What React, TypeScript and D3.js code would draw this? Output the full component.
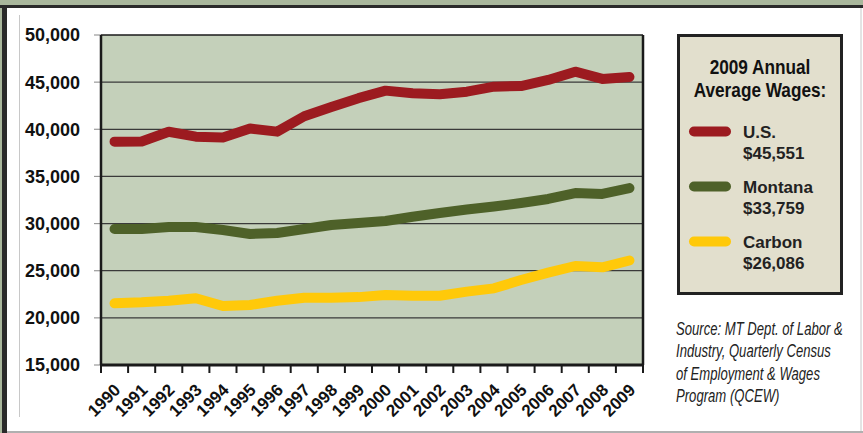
import React from "react";
import * as d3 from "d3";

const years = [1990,1991,1992,1993,1994,1995,1996,1997,1998,1999,2000,2001,2002,2003,2004,2005,2006,2007,2008,2009];
const usWages = [38690,38700,39740,39220,39130,40080,39750,41380,42370,43300,44100,43820,43710,43990,44520,44590,45230,46110,45340,45551];
const montanaWages = [29420,29430,29640,29640,29320,28900,29000,29420,29850,30060,30270,30730,31120,31490,31810,32180,32610,33240,33140,33759];
const carbonWages = [21545,21650,21820,22075,21260,21365,21820,22140,22140,22200,22425,22350,22350,22780,23130,24015,24790,25500,25360,26086];
const yTicks = [15000,20000,25000,30000,35000,40000,45000,50000];

const seriesNames = ["U.S.", "Montana", "Carbon"];
const seriesLabels = ["$45,551", "$33,759", "$26,086"];
const seriesColors = ["#9c1b20", "#4e6129", "#ffc90a"];
const legendTitle = ["2009 Annual", "Average Wages:"];
const sourceLines = ["Source: MT Dept. of Labor &", "Industry, Quarterly Census", "of Employment & Wages", "Program (QCEW)"];

const W = 863, H = 433;
const plot = { left: 101, right: 643, top: 35, bottom: 365 };
const boldFont = "'Liberation Sans', Arial, sans-serif";

export default function App() {
  const x = d3.scaleBand<number>().domain(years).range([plot.left, plot.right]);
  const y = d3.scaleLinear().domain([15000, 50000]).range([plot.bottom, plot.top]);
  const cx = (yr: number) => (x(yr) as number) + x.bandwidth() / 2;
  const line = d3.line<number>().x((_, i) => cx(years[i])).y((v) => y(v)).curve(d3.curveLinear);
  const series = [usWages, montanaWages, carbonWages];
  const fmt = d3.format(",");
  const boundaries = [...years.map((yr) => x(yr) as number), plot.right];

  return (
    <svg width={W} height={H} style={{ position: "absolute", left: 0, top: 0 }}>
      <rect x={0} y={0} width={W} height={H} fill="#ffffff" />
      <rect x={0} y={0} width={W} height={6} fill="#a9b79c" />
      <rect x={0} y={0} width={2} height={H} fill="#a9b79c" />
      <rect x={0} y={5} width={W} height={3} fill="#2a2a2a" />
      <rect x={2} y={5} width={5} height={H} fill="#2a2a2a" />
      <line x1={19.5} x2={19.5} y1={15} y2={417} stroke="#c8c8c8" strokeWidth={1} />
      <rect x={7} y={431} width={W - 7} height={2} fill="#b0b0b0" />
      <line x1={861} x2={861} y1={8} y2={431} stroke="#c8c8c8" strokeWidth={1} />

      {/* plot area */}
      <rect x={plot.left} y={plot.top} width={plot.right - plot.left} height={plot.bottom - plot.top} fill="#c4d0ba" />
      {yTicks.map((t) => (
        <g key={t}>
          {t !== 15000 && t !== 50000 && (
            <line x1={plot.left} x2={plot.right} y1={y(t)} y2={y(t)} stroke="#3a3a3a" strokeWidth={1.2} />
          )}
          <line x1={plot.left - 7} x2={plot.left} y1={y(t)} y2={y(t)} stroke="#999" strokeWidth={1.2} />
          <text x={80} y={y(t)} dy="0.36em" textAnchor="end" fontFamily={boldFont} fontWeight="bold" fontSize={18} fill="#111">
            {fmt(t)}
          </text>
        </g>
      ))}
      {series.map((s, i) => (
        <path key={i} d={line(s) || ""} fill="none" stroke={seriesColors[i]} strokeWidth={10} strokeLinecap="round" strokeLinejoin="round" />
      ))}
      <line x1={plot.left} x2={plot.right} y1={plot.top} y2={plot.top} stroke="#1a1a1a" strokeWidth={1.5} />
      <line x1={plot.left} x2={plot.left} y1={plot.top} y2={plot.bottom} stroke="#1a1a1a" strokeWidth={2.5} />
      <line x1={plot.right} x2={plot.right} y1={plot.top} y2={plot.bottom} stroke="#1a1a1a" strokeWidth={2.5} />
      <line x1={plot.left - 1} x2={plot.right + 1} y1={plot.bottom} y2={plot.bottom} stroke="#1a1a1a" strokeWidth={3} />
      {boundaries.map((b, i) => (
        <line key={i} x1={b} x2={b} y1={plot.bottom} y2={plot.bottom + 8} stroke="#1a1a1a" strokeWidth={2} />
      ))}
      {years.map((yr) => (
        <text key={yr} transform={`translate(${cx(yr) + 7},${plot.bottom + 26}) rotate(-45)`} textAnchor="end"
          fontFamily={boldFont} fontWeight="bold" fontSize={17} fill="#111">
          {yr}
        </text>
      ))}

      {/* legend */}
      <rect x={678.5} y={35.5} width={163} height={258} fill="#e2dfcd" stroke="#222" strokeWidth={3} />
      {legendTitle.map((t, i) => (
        <text key={t} transform={`translate(760,${74 + i * 22.5}) scale(0.82,1)`} textAnchor="middle"
          fontFamily={boldFont} fontWeight="bold" fontSize={21} fill="#111">
          {t}
        </text>
      ))}
      {seriesNames.map((n, i) => (
        <g key={n}>
          <line x1={694} x2={726} y1={131.5 + i * 55} y2={131.5 + i * 55} stroke={seriesColors[i]} strokeWidth={10} strokeLinecap="round" />
          <text x={743} y={137.5 + i * 55} fontFamily={boldFont} fontWeight="bold" fontSize={17} fill="#222">{n}</text>
          <text x={743} y={158.5 + i * 55} fontFamily={boldFont} fontWeight="bold" fontSize={17} fill="#222">{seriesLabels[i]}</text>
        </g>
      ))}
      {sourceLines.map((t, i) => (
        <text key={t} transform={`translate(676,${335 + i * 22.3}) scale(0.69,1)`}
          fontFamily={boldFont} fontStyle="italic" fontSize={19} fill="#222">
          {t}
        </text>
      ))}
    </svg>
  );
}
